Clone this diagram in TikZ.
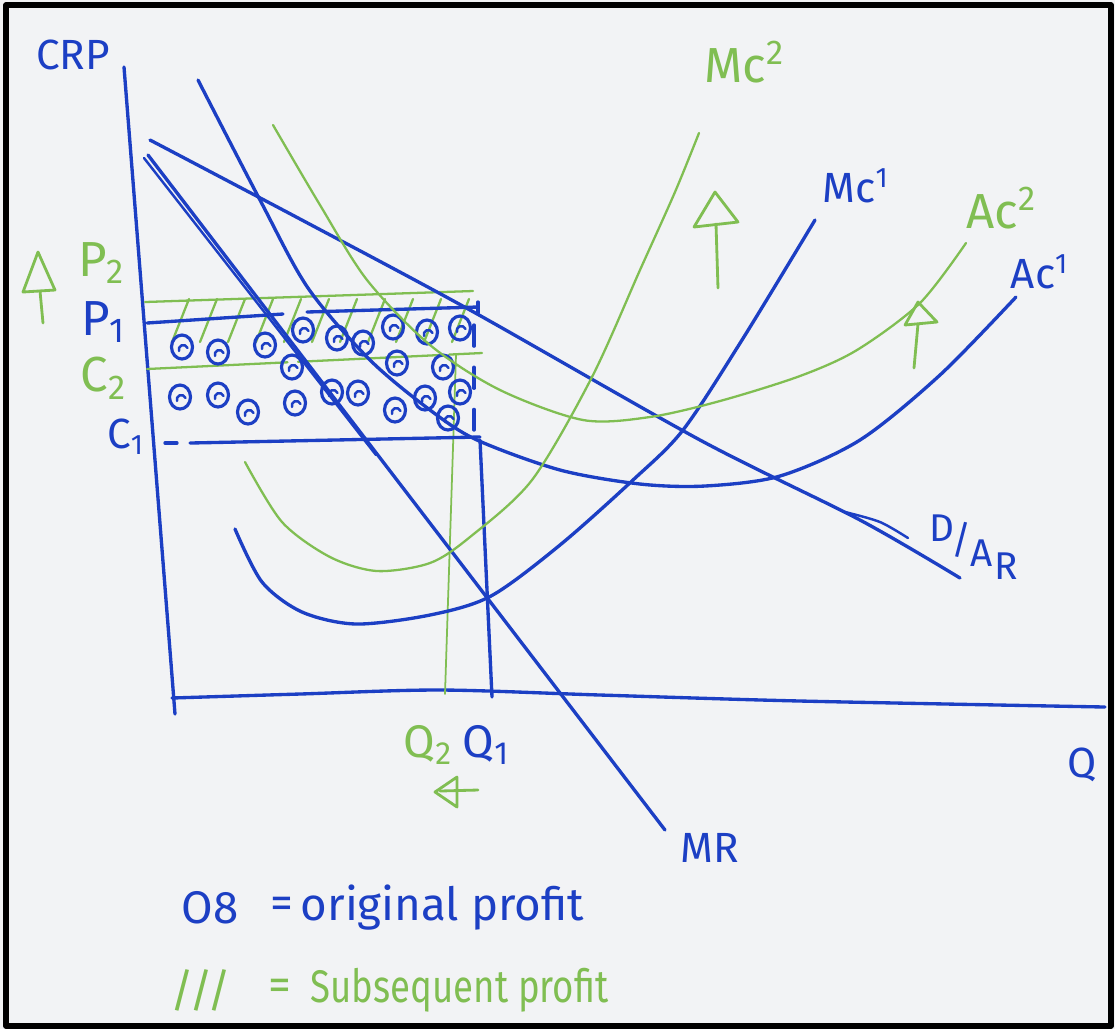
\documentclass[tikz,border=0pt]{standalone}
\usepackage{fontspec}
\setmainfont{Fira Sans}
\definecolor{penblue}{HTML}{1C3FC4}
\definecolor{pengreen}{HTML}{80BE52}
\definecolor{paper}{HTML}{F2F3F5}
\begin{document}
\begin{tikzpicture}[x=0.01cm,y=-0.01cm,line cap=round,line join=round,
  bl/.style={draw=penblue,line width=0.95pt},
  gr/.style={draw=pengreen,line width=0.65pt},
  lb/.style={text=penblue,inner sep=0pt,font=\fontsize{12}{14}\selectfont},
  lg/.style={text=pengreen,inner sep=0pt,font=\fontsize{12}{14}\selectfont},
  garrow/.style={draw=pengreen,line width=0.8pt}]
\fill[paper] (0,0) rectangle (1115,1029);
\useasboundingbox (0,0) rectangle (1115,1029);
\draw[black,line width=1.6pt] (6,5) rectangle (1111,1026);

% axes
\coordinate (ytop) at (124,67);
\coordinate (ybot) at (175,714);
\draw[bl] (ytop) -- (ybot);
\draw[bl] plot[smooth] coordinates {(172,698) (300,694) (440,690) (600,695) (800,701) (1105,707)};

% green profit area (P2 / C2) and hatching
\draw[gr] (145,302) -- (473,291);
\draw[gr,dash pattern=on 40pt off 3pt] (147,369) -- (482,353);
\foreach \x in {172,200,...,452} \draw[gr] (\x,342) -- (\x+17,299);
\draw[gr,line width=0.5pt] (456,355) -- (445,694);

% blue profit area (P1 / C1)
\draw[bl] (147,323) -- (283,314);
\draw[bl] (307,312) -- (478,307);
\draw[bl] (478,302) -- (478,313);
\draw[bl] (165,443) -- (177,443);
\draw[bl] (190,443) -- (480,437);
\draw[bl,dash pattern=on 6pt off 6pt] (474,325) -- (474,430);
\draw[bl] (480,440) -- (492,697);

\foreach \x/\y in {182/347,218/352,265/345,303/330,337/338,363/343,393/327,427/332,460/328,
  292/367,397/363,443/367,
  180/397,218/395,248/412,295/403,332/392,358/393,395/410,425/398,460/392,448/418}
  {\draw[bl,line width=0.9pt] (\x,\y) ellipse [x radius=0.105cm,y radius=0.12cm];
   \draw[bl,line width=0.7pt] (\x-3,\y+4) arc[start angle=200,end angle=20,radius=0.045cm];}

% D/AR
\coordinate (dtop) at (150,140);
\coordinate (dend) at (960,578);
\draw[bl] plot[smooth] coordinates {(dtop) (300,219) (470,310) (700,440) (860,520) (dend)};
\draw[bl,line width=0.7pt] plot[smooth] coordinates {(845,512) (880,522) (908,538)};
\node[lb,font=\fontsize{11}{13}\selectfont] (darD) at (942,528) {D};
\node[lb,font=\fontsize{11}{13}\selectfont] (darS) at (962,540) {/};
\node[lb,font=\fontsize{11}{13}\selectfont] (darA) at (982,553) {A};
\node[lb,font=\fontsize{11}{13}\selectfont] (darR) at (1006,566) {R};

% MR (double stroke at top)
\coordinate (mrtop) at (148,155);
\coordinate (mrend) at (665,830);
\draw[bl] (mrtop) -- (mrend);
\draw[bl,line width=0.7pt] (144,158) -- (376,455);
\node[lb] (mr) at (710,848) {MR};

% AC1
\draw[bl] plot[smooth] coordinates {(198,80) (260,200) (308,288) (370,360) (430,410) (477,440) (560,470) (640,484) (705,486) (780,476) (860,440) (940,375) (1016,297)};
\node[lb] (ac1) at (1040,272) {Ac\textsuperscript{1}};

% MC1
\draw[bl] plot[smooth] coordinates {(235,529) (262,582) (302,612) (356,624) (430,615) (491,596) (560,545) (633,480) (683,430) (742,340) (815,220)};
\node[lb] (mc1) at (856,186) {Mc\textsuperscript{1}};

% MC2
\draw[gr] plot[smooth] coordinates {(245,462) (282,522) (330,557) (377,571) (430,563) (470,537) (532,480) (592,377) (640,270) (675,192) (699,133)};
\node[lg,font=\fontsize{14}{16}\selectfont] (mc2) at (745,62) {Mc\textsuperscript{2}};

% AC2
\draw[gr] plot[smooth] coordinates {(273,125) (320,205) (367,280) (430,345) (500,390) (583,420) (650,417) (720,401) (800,376) (857,350) (920,303) (966,243)};
\node[lg,font=\fontsize{14}{16}\selectfont] (ac2) at (1002,208) {Ac\textsuperscript{2}};

% green arrows
\draw[garrow] (38,252) -- (23,292) -- (55,290) -- cycle;
\draw[garrow] (40,291) -- (43,323);
\draw[garrow] (715,192) -- (694,227) -- (738,222) -- cycle;
\draw[garrow] (716,224) -- (718,288);
\draw[garrow] (918,302) -- (905,325) -- (937,322) -- cycle;
\draw[garrow] (918,324) -- (914,368);
\draw[garrow] (435,792) -- (457,777) -- (457,807) -- cycle;
\draw[garrow] (440,791) -- (478,790);

% axis labels
\node[lb] (crp) at (73,55) {CRP};
\node[lg,font=\fontsize{14}{16}\selectfont] (p2) at (102,263) {P\textsubscript{2}};
\node[lb,font=\fontsize{14}{16}\selectfont] (p1) at (104,322) {P\textsubscript{1}};
\node[lg,font=\fontsize{14}{16}\selectfont] (c2) at (104,378) {C\textsubscript{2}};
\node[lb] (c1) at (126,437) {C\textsubscript{1}};
\node[lg,anchor=west,font=\fontsize{13}{15}\selectfont] (q2) at (403,745) {Q\textsubscript{2}};
\node[lb,anchor=west,font=\fontsize{13}{15}\selectfont] (q1) at (462,745) {Q\textsubscript{1}};
\node[lb] (q) at (1082,765) {Q};

% legend
\node[lb,anchor=west,font=\fontsize{13}{15}\selectfont] (leg1a) at (181,908) {O8};
\node[lb,anchor=west,font=\fontsize{13}{15}\selectfont] (leg1b) at (270,908) {=};
\node[lb,anchor=west,font=\fontsize{13}{15}\selectfont] (leg1c) at (300,908) {original profit};
\node[lg,anchor=west,font=\fontsize{13}{15}\selectfont] (leg2a) at (170,990) {///};
\node[lg,anchor=west,font=\fontsize{13}{15}\selectfont] (leg2b) at (268,990) {=};
\node[lg,anchor=west,font=\fontsize{13}{15}\selectfont] (leg2c) at (310,990) {\scalebox{0.8}[1]{Subsequent profit}};
\end{tikzpicture}
\end{document}
